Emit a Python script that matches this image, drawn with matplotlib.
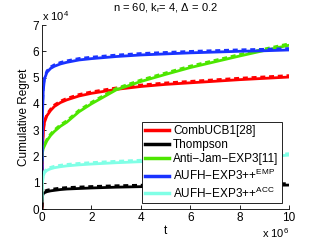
import matplotlib
matplotlib.use('Agg')
import matplotlib.pyplot as plt
import numpy as np

plt.rcParams['font.family'] = ['Liberation Sans', 'DejaVu Sans']
plt.rcParams['mathtext.fontset'] = 'custom'
plt.rcParams['mathtext.rm'] = 'Liberation Sans'

# time (x 1e6) and cumulative regret (x 1e4)
t = [0, 0.02, 0.05, 0.1, 0.2, 0.35, 0.5, 0.75, 1, 1.5, 2, 3, 4, 5, 6, 7, 8, 9, 10]
comb_ucb = [0.0, 2.2, 2.9, 3.3, 3.55, 3.75, 3.9, 4.05, 4.15, 4.3, 4.4, 4.55, 4.66, 4.74, 4.8, 4.86, 4.92, 4.97, 5.02]
thompson = [0.0, 0.5, 0.58, 0.62, 0.66, 0.69, 0.71, 0.74, 0.76, 0.78, 0.8, 0.83, 0.85, 0.86, 0.87, 0.88, 0.89, 0.9, 0.91]
anti_jam = [1.8, 2.15, 2.3, 2.4, 2.6, 2.8, 2.95, 3.15, 3.3, 3.7, 4.0, 4.53, 4.85, 5.12, 5.38, 5.6, 5.82, 6.03, 6.23]
aufh_emp = [1.1, 3.6, 4.5, 4.95, 5.2, 5.35, 5.43, 5.52, 5.58, 5.67, 5.72, 5.8, 5.86, 5.9, 5.94, 5.97, 6.0, 6.02, 6.05]
aufh_acc = [0.3, 1.0, 1.25, 1.38, 1.47, 1.53, 1.57, 1.61, 1.64, 1.68, 1.71, 1.76, 1.8, 1.84, 1.87, 1.9, 1.94, 1.98, 2.05]

labels = ['CombUCB1[28]', 'Thompson', 'Anti\u2212Jam\u2212EXP3[11]',
          'AUFH\u2212EXP3++$^{\\mathrm{EMP}}$', 'AUFH\u2212EXP3++$^{\\mathrm{ACC}}$']
colors = ['#ff0000', '#000000', '#4de600', '#1a33ff', '#80ffe6']
series = [comb_ucb, thompson, anti_jam, aufh_emp, aufh_acc]

fig = plt.figure(figsize=(3.19, 2.40), dpi=100)
ax = fig.add_axes([42/319, 31/240, 247/319, 184/240])

for y, c, lab in zip(series, colors, labels):
    y = np.array(y)
    ax.plot(t, y + 0.06, color=c, lw=1.8, ls=(0, (2, 1.5)))
    ax.plot(t, y, color=c, lw=2, label=lab)

ax.set_xlim(0, 10)
ax.set_ylim(0, 7)
ax.set_xticks(range(0, 11, 2))
ax.set_yticks(range(0, 8))
ax.tick_params(direction='in', labelsize=8.5, length=3, width=0.6, pad=2)
for s in ['top', 'right']:
    ax.spines[s].set_visible(False)
for s in ['left', 'bottom']:
    ax.spines[s].set_linewidth(0.6)

ax.set_xlabel('t', fontsize=8.5, labelpad=1)
ax.set_ylabel('Cumulative Regret', fontsize=8.5, labelpad=2)
ax.set_title('n = 60, k$_\\mathrm{r}$= 4, \u0394 = 0.2', fontsize=8, pad=10)
ax.text(0, 1.01, 'x 10$^{4}$', transform=ax.transAxes, fontsize=8, va='bottom', ha='left')
fig.text(289/319, 2/240, 'x 10$^{6}$', fontsize=8, va='baseline', ha='right')

leg = ax.legend(loc='lower right', bbox_to_anchor=(0.97, 0.03), fontsize=8.5,
                handlelength=2.0, handletextpad=0.4, borderpad=0.25,
                borderaxespad=0, labelspacing=0.2, fancybox=False, framealpha=1)
leg.get_frame().set_edgecolor('black')
leg.get_frame().set_linewidth(0.6)
for h in leg.get_lines():
    h.set_linewidth(2.5)

fig.savefig('out.png', dpi=100)
